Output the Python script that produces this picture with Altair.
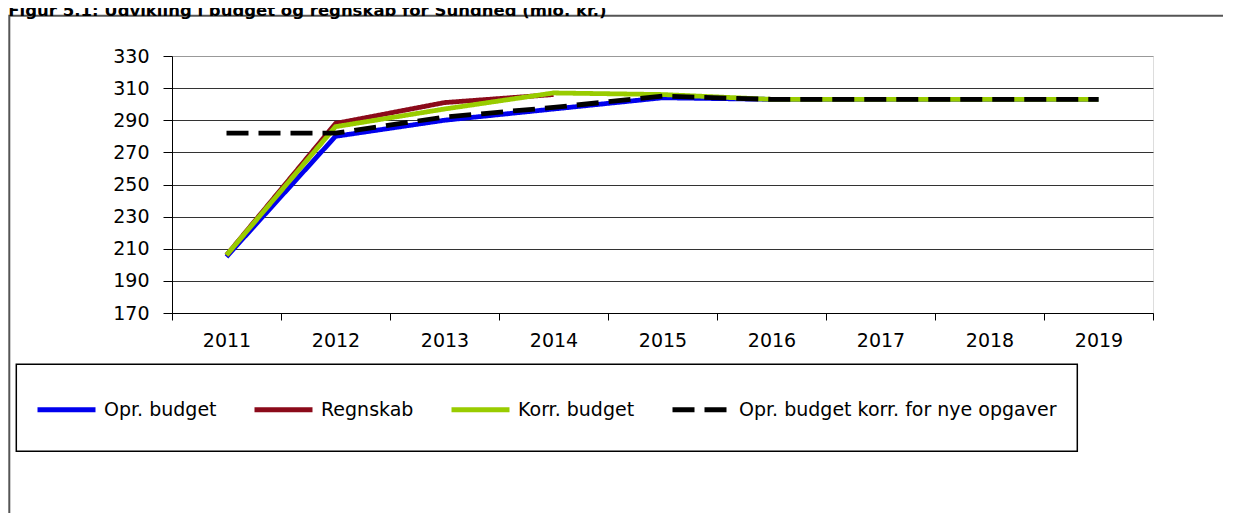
import altair as alt
import pandas as pd

# ---- data ----
years = ["2011", "2012", "2013", "2014", "2015", "2016", "2017", "2018", "2019"]
opr_budget = [205, 280, 290, 297, 304, 303, 303, 303, 303]
regnskab_years = ["2011", "2012", "2013", "2014"]
regnskab = [206, 288, 301, 306]
korr_budget = [206, 286, 297, 307, 306, 303, 303, 303, 303]
opr_korr_nye = [282, 282, 292, 298, 305, 303, 303, 303, 303]

series_names = ["Opr. budget", "Regnskab", "Korr. budget",
                "Opr. budget korr. for nye opgaver"]
series_colors = ["#0000EE", "#8B0A1A", "#99CC00", "#000000"]
series_dash = [[1, 0], [1, 0], [1, 0], [22, 10]]
y_ticks = [170, 190, 210, 230, 250, 270, 290, 310, 330]
title_text = "Figur 5.1: Udvikling i budget og regnskab for Sundhed (mio. kr.)"

FONT = "DejaVu Sans"

rows = []
for name, yrs, vals in [
    (series_names[0], years, opr_budget),
    (series_names[1], regnskab_years, regnskab),
    (series_names[2], years, korr_budget),
    (series_names[3], years, opr_korr_nye),
]:
    for yr, v in zip(yrs, vals):
        rows.append({"year": yr, "value": v, "series": name})
df = pd.DataFrame(rows)

legend = alt.Legend(
    orient="none", legendX=-137, legendY=322, direction="horizontal", columns=4,
    symbolType="stroke", symbolSize=3364, symbolStrokeWidth=5,
    labelFont=FONT, labelFontSize=19, labelColor="#000", labelOffset=6,
    labelLimit=500, columnPadding=27, padding=0, title=None,
)

x_enc = alt.X(
    "year:O", bandPosition=0.5,
    scale=alt.Scale(type="band", domain=years, paddingInner=0, paddingOuter=0),
    axis=alt.Axis(title=None, labelAngle=0, tickBand="extent", tickSize=7,
                  labelFont=FONT, labelFontSize=19, labelColor="#000",
                  labelPadding=11, domainColor="#000", tickColor="#000",
                  grid=False),
)
y_enc = alt.Y(
    "value:Q",
    scale=alt.Scale(domain=[170, 330], nice=False, zero=False),
    axis=alt.Axis(values=y_ticks, title=None, tickSize=9, labelPadding=14,
                  labelFont=FONT, labelFontSize=19, labelColor="#000",
                  domainColor="#000", tickColor="#000", grid=True,
                  gridColor={"condition": {"test": "datum.value == 330", "value": "#999999"},
                             "value": "#333333"},
                  gridWidth=1),
)
color_enc = alt.Color("series:N", scale=alt.Scale(domain=series_names, range=series_colors),
                      legend=legend, title=None)
dash_enc = alt.StrokeDash("series:N", scale=alt.Scale(domain=series_names, range=series_dash),
                          legend=legend, title=None)

layers = []
for name in series_names:
    layers.append(
        alt.Chart(df).transform_filter(alt.datum.series == name)
        .mark_line(strokeWidth=4.8, strokeCap="butt", strokeJoin="round")
        .encode(x=x_enc, y=y_enc, color=color_enc, strokeDash=dash_enc)
    )

one = pd.DataFrame({"t": [title_text]})
frame = alt.Chart(one).mark_rect(fillOpacity=0, stroke="#555555", strokeWidth=2).encode(
    x=alt.value(-162.7), x2=alt.value(1300), y=alt.value(-40.2), y2=alt.value(700))
legend_box = alt.Chart(one).mark_rect(fillOpacity=0, stroke="#000000", strokeWidth=1.5).encode(
    x=alt.value(-155.7), x2=alt.value(905.3), y=alt.value(308.3), y2=alt.value(395.3))
title = alt.Chart(one).mark_text(font=FONT, fontSize=16.5, fontWeight="bold", align="left",
                                 baseline="alphabetic", color="#000").encode(
    x=alt.value(-163.7), y=alt.value(-40.2), text="t:N")

chart = alt.layer(frame, legend_box, title, *layers).properties(
    width=981, height=257,
    autosize=alt.AutoSizeParams(type="none"),
    padding={"left": 164, "top": 48, "right": 70, "bottom": 200},
).configure_view(stroke="#999999", strokeWidth=1).configure(background="white")

chart.save("out.html", embed_options={"renderer": "svg", "actions": False})
